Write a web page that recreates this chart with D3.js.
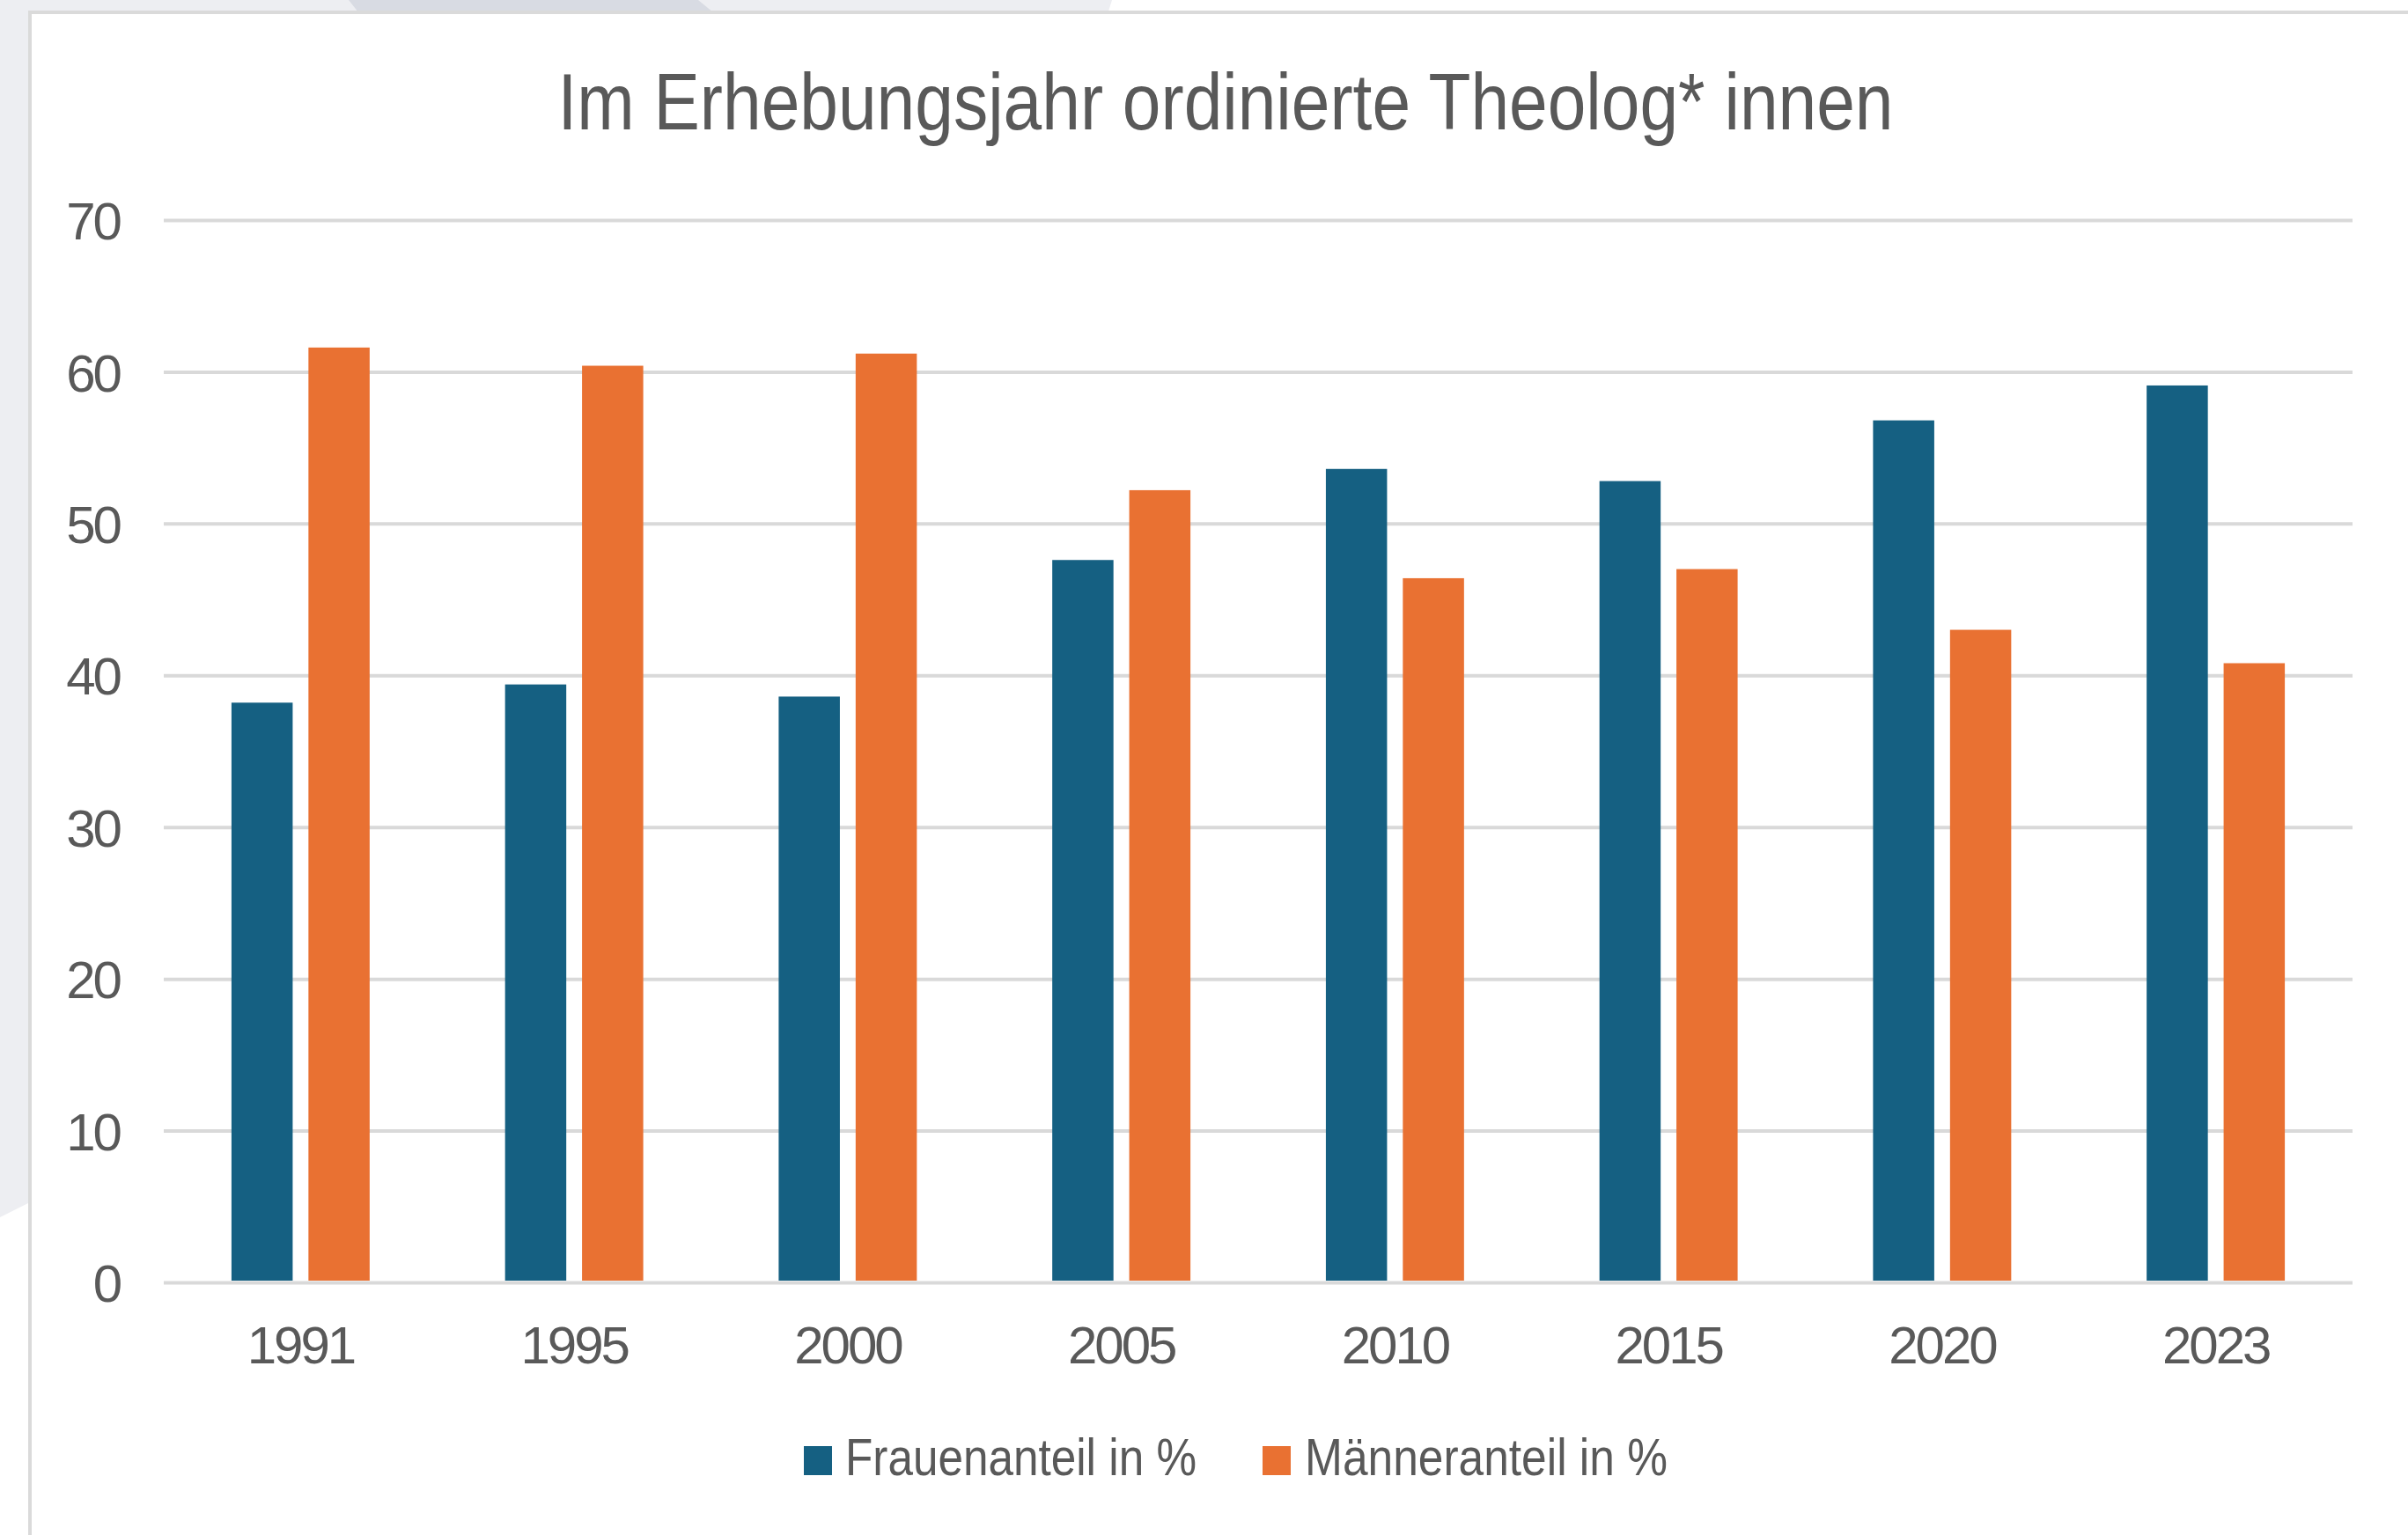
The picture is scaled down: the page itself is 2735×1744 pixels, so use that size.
<!DOCTYPE html>
<html>
<head>
<meta charset="utf-8">
<script src="https://cdn.jsdelivr.net/npm/d3@7.9.0/dist/d3.min.js"></script>
<style>
  html, body { margin: 0; padding: 0; background: #fff; }
  svg { display: block; font-family: 'Liberation Sans', Arial, sans-serif; }
</style>
</head>
<body>
<svg id="chart" width="2735" height="1744"></svg>
<script>
// data
const years = ['1991', '1995', '2000', '2005', '2010', '2015', '2020', '2023'];
const seriesNames = ['Frauenanteil in %', 'Männeranteil in %'];
const frauen = [38.2, 39.4, 38.6, 47.6, 53.6, 52.8, 56.8, 59.1];
const maenner = [61.6, 60.4, 61.2, 52.2, 46.4, 47.0, 43.0, 40.8];
const yTicks = [0, 10, 20, 30, 40, 50, 60, 70];
const titleText = 'Im Erhebungsjahr ordinierte Theolog* innen';

const colors = ['#156082', '#E97132'];
const textColor = '#595959';
const gridColor = '#D9D9D9';

const W = 2735, H = 1744;
const plot = { left: 186, right: 2672, top: 250, bottom: 1457 };

const svg = d3.select('#chart');

// backdrop around the card
svg.append('polygon')
  .attr('points', [[0, 0], [1263, 0], [1258, 16], [34, 16], [34, 1366], [0, 1383]].join(' '))
  .attr('fill', '#EDEEF2');
svg.append('polygon')
  .attr('points', [[396, 0], [793, 0], [810, 14], [407, 14]].join(' '))
  .attr('fill', '#D8DBE3');

// card
svg.append('rect')
  .attr('x', 34).attr('y', 14)
  .attr('width', W).attr('height', H)
  .attr('fill', '#fff')
  .attr('stroke', '#DADADA')
  .attr('stroke-width', 4);

// title
svg.append('text')
  .attr('x', 1392).attr('y', 147)
  .attr('text-anchor', 'middle')
  .attr('font-size', 91)
  .attr('fill', textColor)
  .attr('textLength', 1517)
  .attr('lengthAdjust', 'spacingAndGlyphs')
  .text(titleText);

const x0 = d3.scaleBand()
  .domain(years)
  .range([plot.left, plot.right])
  .paddingInner(0.495)
  .paddingOuter(0.2475);

const x1 = d3.scaleBand()
  .domain(seriesNames)
  .range([0, x0.bandwidth()])
  .paddingInner(0.205);

const y = d3.scaleLinear()
  .domain([0, 70])
  .range([plot.bottom, plot.top]);

// gridlines + y labels
const yAxis = svg.append('g')
  .attr('transform', `translate(${plot.left},0)`)
  .call(d3.axisLeft(y).tickValues(yTicks).tickSize(-(plot.right - plot.left)).tickPadding(0));
yAxis.select('.domain').remove();
yAxis.selectAll('.tick line')
  .attr('stroke', gridColor)
  .attr('stroke-width', 4);
yAxis.selectAll('.tick text')
  .attr('x', 133 - plot.left + 3)
  .attr('dy', '0.36em')
  .attr('font-size', 60)
  .attr('letter-spacing', -3)
  .attr('fill', textColor)
  .attr('font-family', null);

// bars
const rows = years.map((yr, i) => ({ year: yr, values: [frauen[i], maenner[i]] }));
const groups = svg.append('g')
  .selectAll('g')
  .data(rows)
  .join('g')
  .attr('transform', (d) => `translate(${x0(d.year)},0)`);

groups.selectAll('rect')
  .data((d) => d.values.map((v, k) => ({ name: seriesNames[k], value: v, k })))
  .join('rect')
  .attr('x', (d) => x1(d.name))
  .attr('width', x1.bandwidth())
  .attr('y', (d) => y(d.value))
  .attr('height', (d) => y(0) - y(d.value) - 2)
  .attr('fill', (d) => colors[d.k]);

// x labels
const xAxis = svg.append('g')
  .attr('transform', `translate(0,${plot.bottom})`)
  .call(d3.axisBottom(x0).tickSize(0).tickPadding(0));
xAxis.select('.domain').remove();
xAxis.selectAll('.tick text')
  .attr('y', 1549 - plot.bottom)
  .attr('dy', null)
  .attr('font-size', 60)
  .attr('letter-spacing', -3)
  .attr('fill', textColor)
  .attr('font-family', null);

// legend
const legendItems = [
  { name: seriesNames[0], color: colors[0], sx: 913, tx: 960, tw: 399 },
  { name: seriesNames[1], color: colors[1], sx: 1434, tx: 1482, tw: 412 },
];
const legend = svg.append('g').selectAll('g').data(legendItems).join('g');
legend.append('rect')
  .attr('x', (d) => d.sx).attr('y', 1643)
  .attr('width', 32).attr('height', 33)
  .attr('fill', (d) => d.color);
legend.append('text')
  .attr('x', (d) => d.tx).attr('y', 1676)
  .attr('font-size', 59)
  .attr('fill', textColor)
  .attr('textLength', (d) => d.tw)
  .attr('lengthAdjust', 'spacingAndGlyphs')
  .text((d) => d.name);
</script>
</body>
</html>
